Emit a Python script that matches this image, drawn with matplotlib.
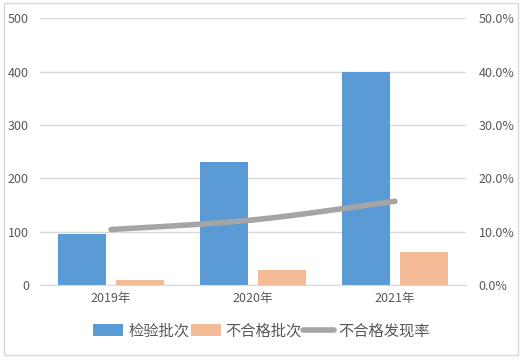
import numpy as np
import matplotlib.pyplot as plt
from matplotlib.patches import Rectangle
from matplotlib.ticker import PercentFormatter

plt.rcParams['font.family'] = ['Noto Sans CJK SC', 'DejaVu Sans']

# data
years = ['2019年', '2020年', '2021年']
jianyan = [96, 230, 400]
buhege = [9, 28, 62]
fxl = [10.4, 12.2, 15.7]

blue = '#5B9BD5'
orange = '#F4BC96'
gray = '#A5A5A5'
txt = '#595959'
grid = '#D9D9D9'

fig = plt.figure(figsize=(5.23, 3.6), dpi=100)
ax = fig.add_axes([40/523, 1-285/360, 426/523, (285-18.3)/360])
ax2 = ax.twinx()

x = np.arange(len(years))
w = 0.338
ax.bar(x - 0.204, jianyan, w, color=blue, label='检验批次', zorder=2)
ax.bar(x + 0.204, buhege, w, color=orange, label='不合格批次', zorder=2)


# smoothed line (catmull-rom like excel)
def smooth(xs, ys, n=40):
    xs = np.asarray(xs, float); ys = np.asarray(ys, float)
    P = np.column_stack([xs, ys])
    P = np.vstack([P[0], P, P[-1]])
    out = []
    for i in range(1, len(P) - 2):
        p0, p1, p2, p3 = P[i-1], P[i], P[i+1], P[i+2]
        t = np.linspace(0, 1, n)[:, None]
        c = 0.5 * ((2*p1) + (-p0 + p2)*t + (2*p0 - 5*p1 + 4*p2 - p3)*t**2 + (-p0 + 3*p1 - 3*p2 + p3)*t**3)
        out.append(c)
    out = np.vstack(out)
    return out[:, 0], out[:, 1]


sx, sy = smooth(x, fxl)
ax2.plot(sx, sy, color=gray, lw=4, solid_capstyle='round', label='不合格发现率', zorder=3)

ax.set_xlim(-0.5, 2.5)
ax.set_ylim(0, 500)
ax2.set_ylim(0, 50)
ax.set_yticks(range(0, 501, 100))
ax2.set_yticks(range(0, 51, 10))
ax2.yaxis.set_major_formatter(PercentFormatter(decimals=1))
ax.set_xticks(x)
ax.set_xticklabels(years)
ax.yaxis.grid(True, color=grid, lw=1, zorder=0)
ax.set_axisbelow(True)
for a in (ax, ax2):
    for s in a.spines.values():
        s.set_visible(False)
    a.tick_params(length=0, labelsize=9, colors=txt)
ax.spines['bottom'].set_visible(True)
ax.spines['bottom'].set_color(grid)
ax.tick_params(axis='y', pad=8)
ax2.tick_params(axis='y', pad=9)
ax.tick_params(axis='x', pad=5)

h1, l1 = ax.get_legend_handles_labels()
h2, l2 = ax2.get_legend_handles_labels()
fig.legend(h1 + h2, l1 + l2, loc='center', bbox_to_anchor=(0.5, 1-331/360), ncol=3,
           frameon=False, fontsize=11, labelcolor=txt, handlelength=2.0,
           handletextpad=0.3, columnspacing=0.1, handleheight=0.8)

fig.patches.append(Rectangle((4/523, 1-355/360), 514/523, 352/360, transform=fig.transFigure,
                             fill=False, edgecolor=grid, lw=1))

fig.savefig('out.png', dpi=100)
